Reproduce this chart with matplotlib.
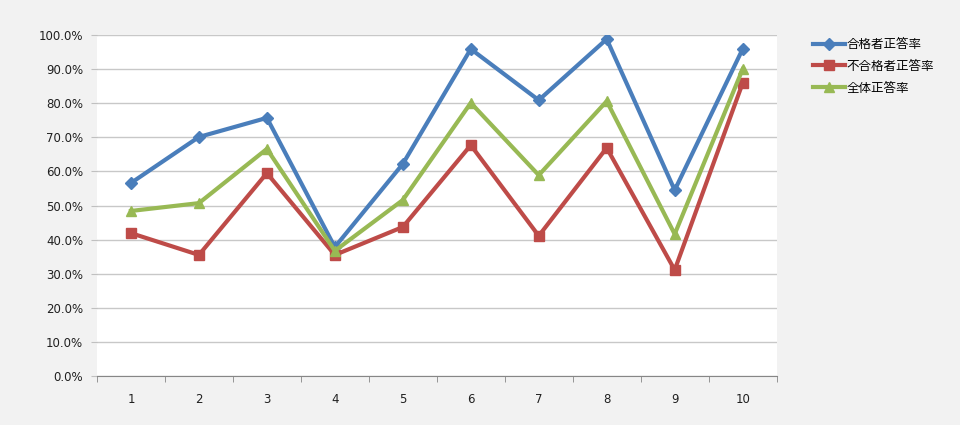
import matplotlib
matplotlib.use("Agg")
import matplotlib.pyplot as plt
from matplotlib.ticker import FixedLocator, FuncFormatter

plt.rcParams['font.family'] = ['Noto Sans CJK JP', 'DejaVu Sans']

# data
questions = ['1', '2', '3', '4', '5', '6', '7', '8', '9', '10']
passed = [56.6, 70.1, 75.7, 37.8, 62.2, 95.9, 80.9, 98.8, 54.5, 95.9]
failed = [41.9, 35.5, 59.5, 35.5, 43.7, 67.7, 41.1, 66.9, 31.1, 85.9]
overall = [48.4, 50.7, 66.6, 36.7, 51.6, 80.1, 58.9, 80.6, 41.6, 90.0]
names = ['合格者正答率', '不合格者正答率', '全体正答率']

fig = plt.figure(figsize=(9.6, 4.25), dpi=100)
fig.patch.set_facecolor('#f2f2f2')
ax = fig.add_axes([0.101, 0.1153, 0.708, 0.8023])
ax.set_facecolor('white')

x = list(range(1, len(questions) + 1))
ax.plot(x, passed, color='#4a7ebb', lw=3, marker='D', ms=6, label=names[0])
ax.plot(x, failed, color='#be4b48', lw=3, marker='s', ms=7, label=names[1])
ax.plot(x, overall, color='#98b954', lw=3, marker='^', ms=7.5, label=names[2])

ax.set_ylim(0, 100)
ax.set_xlim(0.5, len(questions) + 0.5)
ax.set_yticks(range(0, 101, 10))
ax.yaxis.set_major_formatter(FuncFormatter(lambda v, p: f'{v:.1f}%'))
ax.set_xticks(x)
ax.set_xticklabels(questions)
ax.xaxis.set_minor_locator(FixedLocator([i + 0.5 for i in range(0, len(questions) + 1)]))
ax.tick_params(axis='x', which='major', length=0, pad=12)
ax.tick_params(axis='x', which='minor', length=4, color='#868686')
ax.tick_params(axis='y', length=4, color='#c0c0c0', pad=6)
ax.tick_params(labelsize=8.5, labelcolor='#202020')
for lab in ax.get_xticklabels() + ax.get_yticklabels():
    lab.set_family('DejaVu Sans')
ax.grid(axis='y', color='#c8c8c8', lw=1)
ax.set_axisbelow(True)
for s in ['top', 'right', 'left']:
    ax.spines[s].set_visible(False)
ax.spines['bottom'].set_color('#868686')

fig.legend(loc='upper left', bbox_to_anchor=(0.835, 0.937), frameon=False,
           fontsize=9, handlelength=2.6, handletextpad=0.1, labelspacing=0.7)

fig.savefig('out.png', dpi=100, facecolor=fig.get_facecolor())
